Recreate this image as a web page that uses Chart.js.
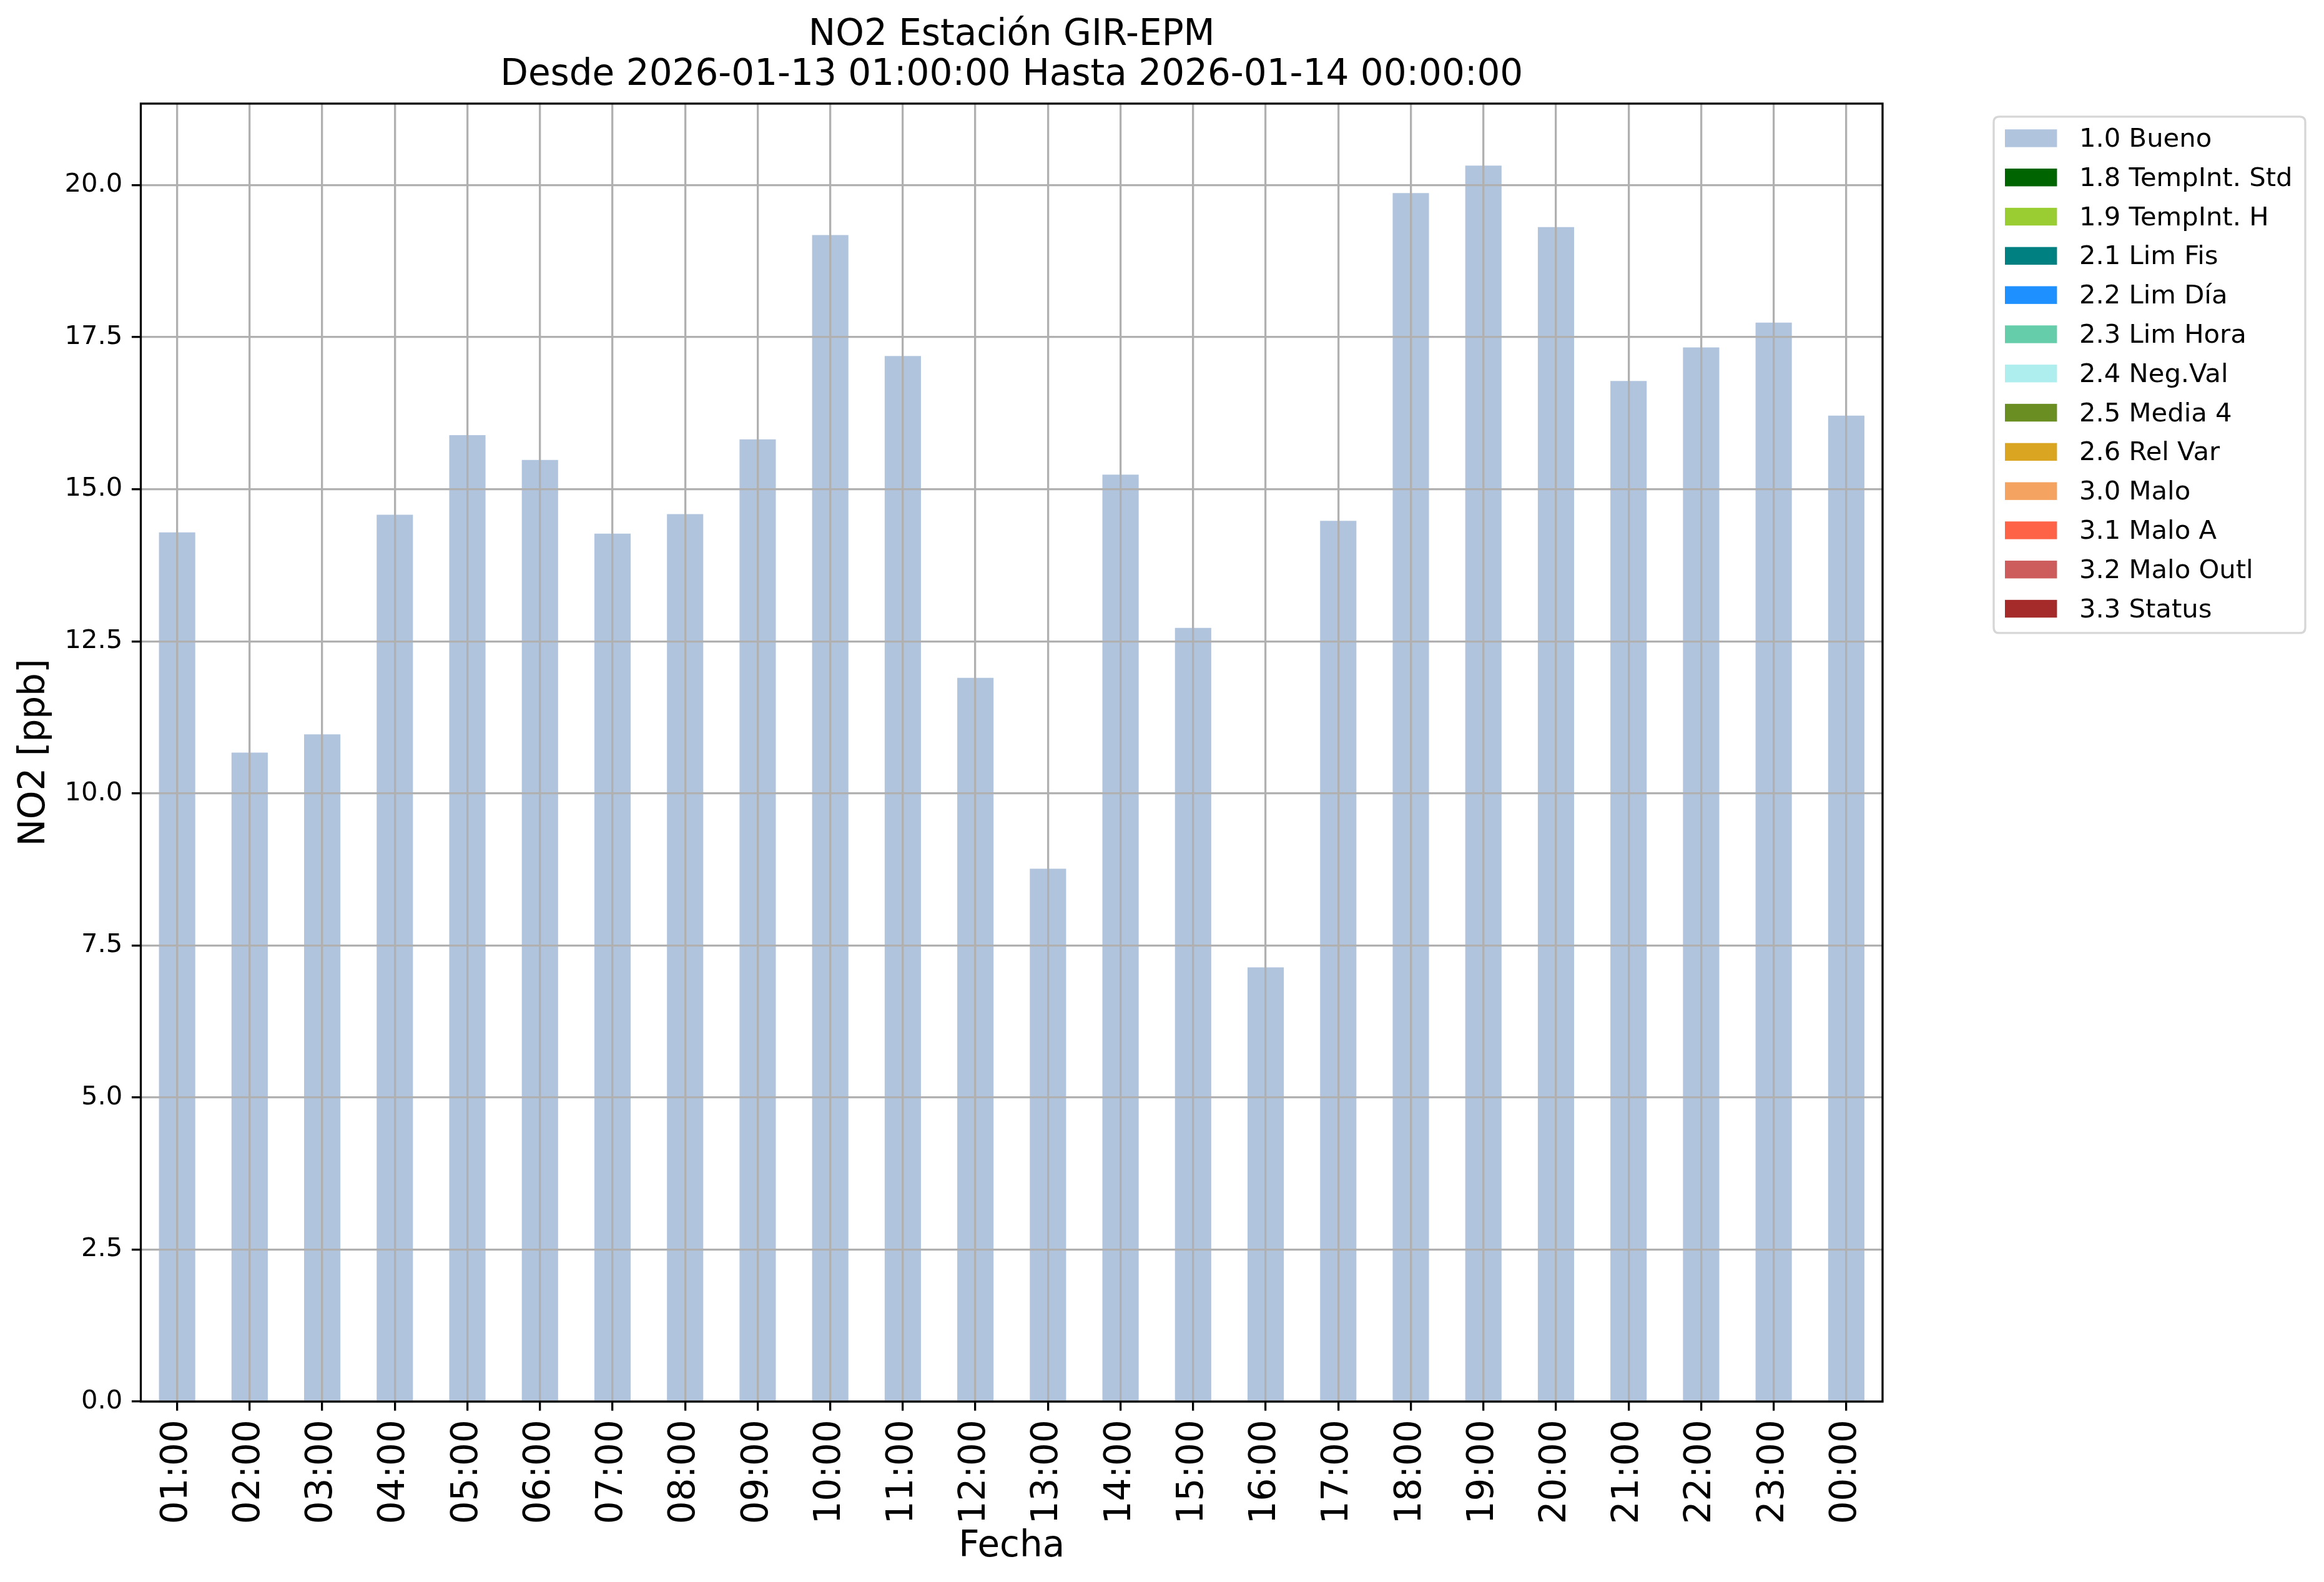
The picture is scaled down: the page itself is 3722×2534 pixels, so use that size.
<!DOCTYPE html>
<html>
<head>
<meta charset="utf-8">
<script src="https://cdn.jsdelivr.net/npm/chart.js"></script>
<style>
  html, body { margin: 0; padding: 0; background: #ffffff; }
  #wrap { width: 3722px; height: 2534px; position: relative; }
  canvas { display: block; }
</style>
</head>
<body>
<div id="wrap"><canvas id="c" width="3722" height="2534"></canvas></div>
<script>
// ---- data ----
const hours = ["01:00","02:00","03:00","04:00","05:00","06:00","07:00","08:00","09:00","10:00","11:00","12:00",
               "13:00","14:00","15:00","16:00","17:00","18:00","19:00","20:00","21:00","22:00","23:00","00:00"];
const buenoValues = [14.29, 10.67, 10.97, 14.58, 15.89, 15.48, 14.27, 14.59, 15.82, 19.18, 17.19, 11.90,
                     8.76, 15.24, 12.72, 7.14, 14.48, 19.87, 20.32, 19.31, 16.78, 17.33, 17.74, 16.21];
const flagLabels = ["1.0 Bueno","1.8 TempInt. Std","1.9 TempInt. H","2.1 Lim Fis","2.2 Lim Día","2.3 Lim Hora",
                    "2.4 Neg.Val","2.5 Media 4","2.6 Rel Var","3.0 Malo","3.1 Malo A","3.2 Malo Outl","3.3 Status"];
const flagColors = ["#b0c4de","#006400","#9acd32","#008080","#1e90ff","#66cdaa",
                    "#afeeee","#6b8e23","#daa520","#f4a460","#ff6347","#cd5c5c","#a52a2a"];
const yTickValues = [0, 2.5, 5, 7.5, 10, 12.5, 15, 17.5, 20];
const yMax = 21.34;
const titleLines = ["NO2 Estación GIR-EPM", "Desde 2026-01-13 01:00:00 Hasta 2026-01-14 00:00:00"];
const xTitle = "Fecha";
const yTitle = "NO2 [ppb]";

// ---- chart ----
Chart.defaults.font.family = "'DejaVu Sans', sans-serif";
Chart.defaults.color = "#000000";

const datasets = flagLabels.map((lab, i) => ({
  label: lab,
  data: i === 0 ? buenoValues : [],
  backgroundColor: flagColors[i],
  borderWidth: 0,
  barPercentage: 0.5,
  categoryPercentage: 1.0
}));

const bgPlugin = {
  id: 'bg',
  beforeDraw(chart) {
    const ctx = chart.ctx;
    ctx.save();
    ctx.fillStyle = '#ffffff';
    ctx.fillRect(0, 0, chart.width, chart.height);
    ctx.restore();
  }
};

const framePlugin = {
  id: 'frame',
  afterDraw(chart) {
    const ctx = chart.ctx;
    const a = chart.chartArea;
    ctx.save();
    ctx.strokeStyle = '#000000';
    ctx.lineWidth = 3.3;
    ctx.strokeRect(a.left, a.top, a.right - a.left, a.bottom - a.top);
    ctx.restore();
  }
};

const legendPlugin = {
  id: 'mplLegend',
  afterDraw(chart) {
    const ctx = chart.ctx;
    const a = chart.chartArea;
    const x0 = a.right + 178, y0 = a.top + 21, w = 499, h = 827, r = 9;
    ctx.save();
    ctx.beginPath();
    ctx.moveTo(x0 + r, y0);
    ctx.lineTo(x0 + w - r, y0);
    ctx.quadraticCurveTo(x0 + w, y0, x0 + w, y0 + r);
    ctx.lineTo(x0 + w, y0 + h - r);
    ctx.quadraticCurveTo(x0 + w, y0 + h, x0 + w - r, y0 + h);
    ctx.lineTo(x0 + r, y0 + h);
    ctx.quadraticCurveTo(x0, y0 + h, x0, y0 + h - r);
    ctx.lineTo(x0, y0 + r);
    ctx.quadraticCurveTo(x0, y0, x0 + r, y0);
    ctx.closePath();
    ctx.fillStyle = 'rgba(255,255,255,0.8)';
    ctx.fill();
    ctx.strokeStyle = 'rgba(204,204,204,0.8)';
    ctx.lineWidth = 3.3;
    ctx.stroke();
    ctx.font = "41.7px 'DejaVu Sans'";
    ctx.textBaseline = 'middle';
    ctx.textAlign = 'left';
    chart.data.datasets.forEach((ds, i) => {
      const cy = y0 + 34.5 + i * 62.8;
      ctx.fillStyle = ds.backgroundColor;
      ctx.fillRect(x0 + 18, cy - 14.2, 83.4, 28.4);
      ctx.fillStyle = '#000000';
      ctx.fillText(ds.label, x0 + 137, cy + 2.7);
    });
    ctx.restore();
  }
};

new Chart(document.getElementById('c'), {
  type: 'bar',
  data: { labels: hours, datasets: datasets },
  options: {
    responsive: false,
    devicePixelRatio: 1,
    animation: false,
    layout: { padding: { left: 0, right: 707, top: 0, bottom: 0 } },
    plugins: {
      legend: { display: false },
      tooltip: { enabled: false },
      title: {
        display: true,
        text: titleLines,
        fullSize: false,
        color: '#000000',
        font: { size: 58, weight: 'normal', lineHeight: 1.103 },
        padding: { top: 25, bottom: 13 }
      }
    },
    scales: {
      x: {
        stacked: true,
        offset: true,
        grid: { z: 1, offset: false, color: '#b0b0b0', lineWidth: 3.3, drawTicks: true, tickLength: 14.6, tickColor: '#000000', tickWidth: 3.3 },
        border: { display: false },
        ticks: { minRotation: 90, maxRotation: 90, autoSkip: false, color: '#000000', font: { size: 58 }, padding: 14.6 },
        title: { display: true, text: xTitle, color: '#000000', font: { size: 58 }, padding: { top: 0, bottom: 21 } },
        afterFit(s) { s.height = 289; }
      },
      y: {
        stacked: true,
        min: 0,
        max: yMax,
        afterBuildTicks(s) { s.ticks = yTickValues.map(v => ({ value: v })); },
        grid: { z: 1, color: '#b0b0b0', lineWidth: 3.3, drawTicks: true, tickLength: 14.6, tickColor: '#000000', tickWidth: 3.3 },
        border: { display: false },
        ticks: { color: '#000000', font: { size: 41.7 }, padding: 14.6, callback: v => Number(v).toFixed(1) },
        title: { display: true, text: yTitle, color: '#000000', font: { size: 58 }, padding: { top: 21, bottom: 0 } },
        afterFit(s) { s.width = 225.5; }
      }
    }
  },
  plugins: [bgPlugin, framePlugin, legendPlugin]
});
</script>
</body>
</html>
